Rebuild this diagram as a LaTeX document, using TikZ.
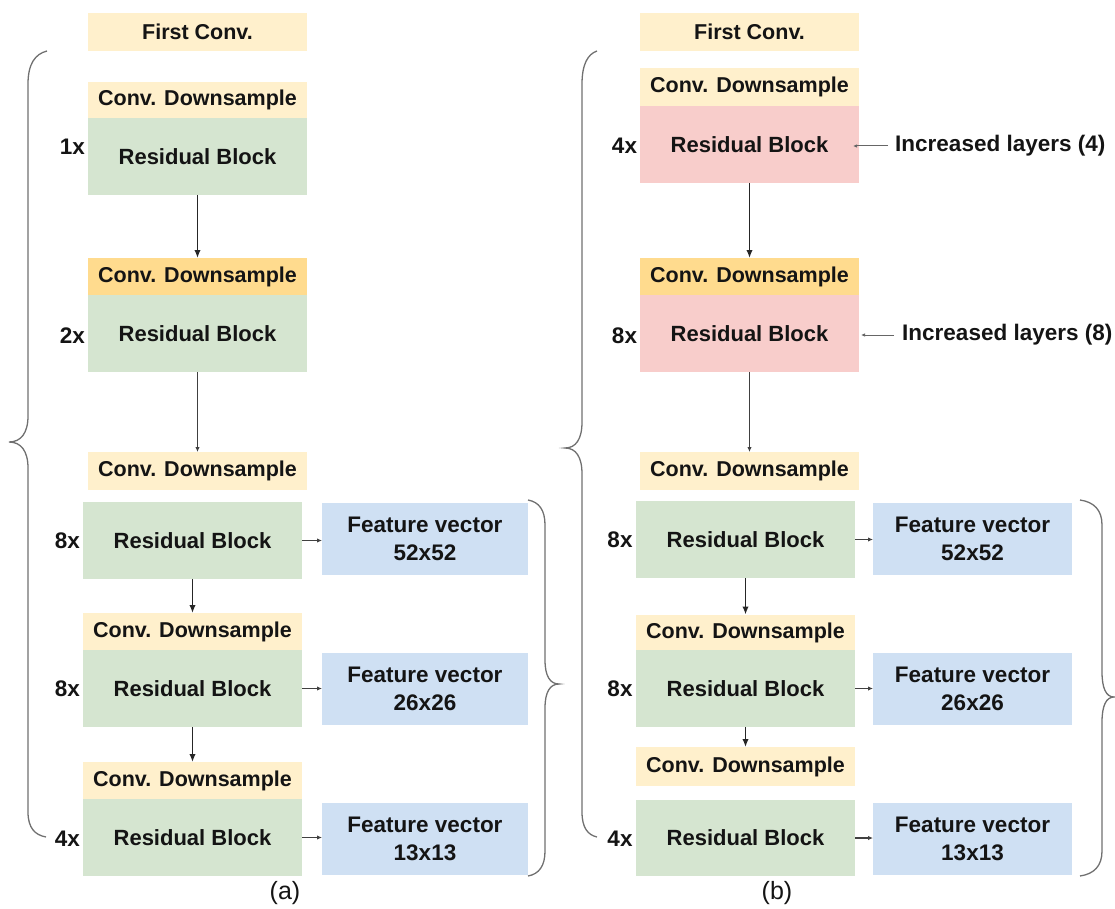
\documentclass[tikz,border=0pt]{standalone}
\usepackage{fontspec}
\setmainfont{Liberation Sans}
\usetikzlibrary{arrows.meta}
\definecolor{cdlight}{HTML}{FFF0CC}
\definecolor{cddark}{HTML}{FFDB8E}
\definecolor{grn}{HTML}{D5E5D0}
\definecolor{pnk}{HTML}{F8CDCB}
\definecolor{blu}{HTML}{CFE0F3}
\definecolor{txt}{HTML}{141414}
\definecolor{brc}{HTML}{707070}
\begin{document}
\begin{tikzpicture}[x=1pt,y=-1pt,
  blk/.style={rectangle, inner sep=0pt, outer sep=0pt, text=txt, align=center,
    font=\fontsize{22}{28}\selectfont\bfseries, minimum width=219pt},
  cdbox/.style={blk, fill=cdlight, font=\fontsize{21.5}{26}\selectfont\bfseries},
  cddbox/.style={blk, fill=cddark, font=\fontsize{21.5}{26}\selectfont\bfseries},
  rbg/.style={blk, fill=grn, minimum height=77pt},
  rbp/.style={blk, fill=pnk, minimum height=77pt},
  fvbox/.style={blk, fill=blu, minimum height=72pt, font=\fontsize{22.5}{28}\selectfont\bfseries},
  mult/.style={inner sep=0pt, text=txt, font=\fontsize{22.5}{26}\selectfont\bfseries},
  arr/.style={draw=black!85, line width=1.7pt, -{Latex[length=8pt,width=6.5pt]}},
  tarr/.style={draw=black!75, line width=1pt, -{Latex[length=5pt,width=4.5pt]}},
  harr/.style={draw=black!75, line width=1.1pt, -{Latex[length=5pt,width=4.5pt]}},
  iarr/.style={draw=black!60, line width=1pt, -{Latex[length=4pt,width=3.5pt]}},
  brline/.style={draw=brc, line width=1.3pt}
]
\useasboundingbox (0,0) rectangle (1115,909);

% ---------------- (a) ----------------
\node[cdbox, minimum height=38pt] (fca) at (197.5,32) {First Conv.};
\node[cdbox, minimum height=36pt] (cd1a) at (197.5,100) {Conv. Downsample};
\node[rbg] (rb1a) at (197.5,156.5) {Residual Block};
\node[cddbox, minimum height=37pt] (cd2a) at (197.5,276.5) {Conv. Downsample};
\node[rbg] (rb2a) at (197.5,333.5) {Residual Block};
\node[cdbox, minimum height=38pt] (cd3a) at (197.5,471) {Conv. Downsample};
\node[rbg] (rb3a) at (192.5,540.5) {Residual Block};
\node[cdbox, minimum height=37pt] (cd4a) at (192.5,631.5) {Conv. Downsample};
\node[rbg] (rb4a) at (192.5,688.5) {Residual Block};
\node[cdbox, minimum height=37pt] (cd5a) at (192.5,780.5) {Conv. Downsample};
\node[rbg] (rb5a) at (192.5,837.5) {Residual Block};
\node[fvbox, minimum width=206pt] (fv1a) at (425,539) {Feature vector\\52x52};
\node[fvbox, minimum width=206pt] (fv2a) at (425,688.5) {Feature vector\\26x26};
\node[fvbox, minimum width=206pt] (fv3a) at (425,838.5) {Feature vector\\13x13};

\node[mult] (m1a) at (72.5,147) {1x};
\node[mult] (m2a) at (72.5,336) {2x};
\node[mult] (m3a) at (67.5,541) {8x};
\node[mult] (m4a) at (67.5,689) {8x};
\node[mult] (m5a) at (67.5,839) {4x};

\draw[arr] (rb1a.south) -- (cd2a.north);
\draw[tarr] (rb2a.south) -- (cd3a.north);
\draw[arr] (rb3a.south) -- (cd4a.north);
\draw[arr] (rb4a.south) -- (cd5a.north);
\draw[harr] (rb3a.east) -- (rb3a.east -| fv1a.west);
\draw[harr] (rb4a.east) -- (rb4a.east -| fv2a.west);
\draw[harr] (rb5a.east) -- (rb5a.east -| fv3a.west);

\draw[brline] (47,51) .. controls (35,54) and (28,64) .. (28,84) -- (28,416)
  .. controls (28,433) and (21,442) .. (9,442) .. controls (21,442) and (28,451) .. (28,468)
  -- (28,812) .. controls (28,828) and (35,835) .. (46,837);
\draw[brline] (528,500) .. controls (539,502) and (545,510) .. (545,525) -- (545,660)
  .. controls (545,676) and (550,684) .. (559,684) .. controls (550,684) and (545,692) .. (545,708)
  -- (545,851) .. controls (545,866) and (539,874) .. (528,876);

\node[inner sep=0pt, text=txt, font=\fontsize{25}{28}\selectfont] (la) at (285,893) {(a)};

% ---------------- (b) ----------------
\node[cdbox, minimum height=38pt] (fcb) at (749.5,32) {First Conv.};
\node[cdbox, minimum height=38pt] (cd1b) at (749.5,87) {Conv. Downsample};
\node[rbp] (rb1b) at (749.5,144.5) {Residual Block};
\node[cddbox, minimum height=37pt] (cd2b) at (749.5,276.5) {Conv. Downsample};
\node[rbp] (rb2b) at (749.5,333.5) {Residual Block};
\node[cdbox, minimum height=38pt] (cd3b) at (749.5,471) {Conv. Downsample};
\node[rbg] (rb3b) at (745.5,539.5) {Residual Block};
\node[cdbox, minimum height=36pt] (cd4b) at (745.5,632.5) {Conv. Downsample};
\node[rbg] (rb4b) at (745.5,688.5) {Residual Block};
\node[cdbox, minimum height=39pt] (cd5b) at (745.5,766.5) {Conv. Downsample};
\node[rbg, minimum height=76pt] (rb5b) at (745.5,838) {Residual Block};
\node[fvbox, minimum width=199pt] (fv1b) at (972.5,539) {Feature vector\\52x52};
\node[fvbox, minimum width=199pt] (fv2b) at (972.5,688.5) {Feature vector\\26x26};
\node[fvbox, minimum width=199pt] (fv3b) at (972.5,839) {Feature vector\\13x13};

\node[mult] (m1b) at (624.5,146) {4x};
\node[mult] (m2b) at (624.5,336) {8x};
\node[mult] (m3b) at (620,540) {8x};
\node[mult] (m4b) at (620,689) {8x};
\node[mult] (m5b) at (620,839) {4x};

\draw[arr] (rb1b.south) -- (cd2b.north);
\draw[tarr] (rb2b.south) -- (cd3b.north);
\draw[arr] (rb3b.south) -- (cd4b.north);
\draw[arr] (rb4b.south) -- (cd5b.north);
\draw[harr] (rb3b.east) -- (rb3b.east -| fv1b.west);
\draw[harr] (rb4b.east) -- (rb4b.east -| fv2b.west);
\draw[harr] (rb5b.east) -- (rb5b.east -| fv3b.west);

\node[mult, anchor=west] (il1) at (895,146) {Increased layers (4)};
\node[mult, anchor=west] (il2) at (902,335) {Increased layers (8)};
\coordinate (ia1) at (853,146);
\coordinate (ia2) at (861,335);
\draw[iarr, shorten <=7pt] (il1.west) -- (ia1);
\draw[iarr, shorten <=8pt] (il2.west) -- (ia2);

\draw[brline] (597,51) .. controls (588,54) and (582,64) .. (582,84) -- (582,422)
  .. controls (582,439) and (576,448) .. (565,448) .. controls (576,448) and (582,457) .. (582,474)
  -- (582,812) .. controls (582,828) and (588,835) .. (597,837);
\draw[brline] (1080,500) .. controls (1094,502) and (1102,510) .. (1102,525) -- (1102,672)
  .. controls (1102,688) and (1106,697) .. (1114,697) .. controls (1106,697) and (1102,706) .. (1102,722)
  -- (1102,851) .. controls (1102,866) and (1094,874) .. (1080,876);

\node[inner sep=0pt, text=txt, font=\fontsize{25}{28}\selectfont] (lb) at (777,893) {(b)};
\end{tikzpicture}
\end{document}
